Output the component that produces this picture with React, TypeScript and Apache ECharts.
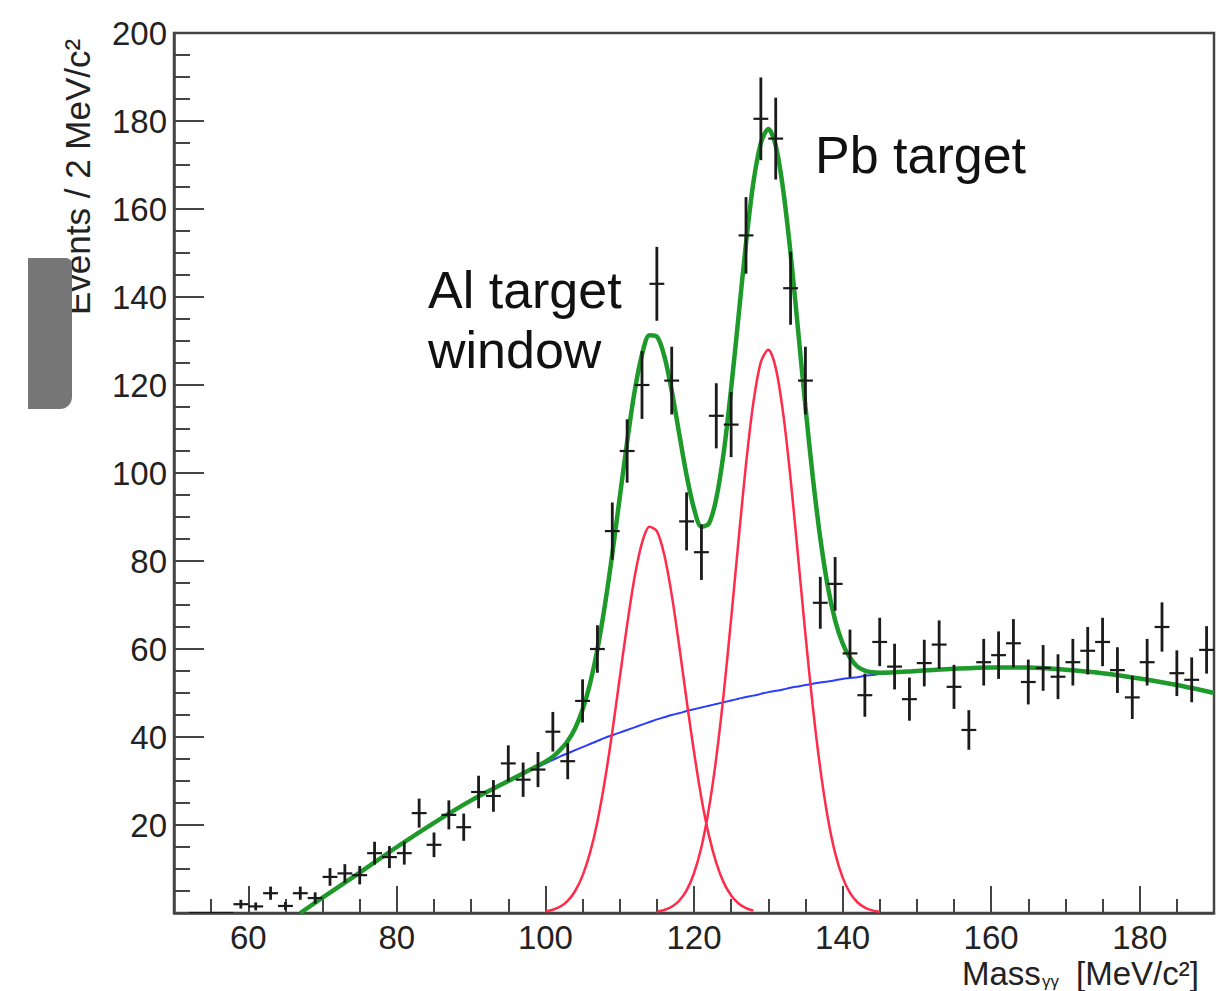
import React, { useEffect, useRef } from "react";
import * as echarts from "echarts";

// ---- histogram data (bin centres in MeV/c^2, 2 MeV bins) ----
const binCenters = [53,55,57,59,61,63,65,67,69,71,73,75,77,79,81,83,85,87,89,91,93,95,97,99,101,103,105,107,109,111,113,115,117,119,121,123,125,127,129,131,133,135,137,139,141,143,145,147,149,151,153,155,157,159,161,163,165,167,169,171,173,175,177,179,181,183,185,187,189];
const counts = [0,0,0,2,1.5,4.5,1.6,4.5,3.4,8.2,
  9,8.6,13.6,12.7,13.6,22.7,15.5,22.3,19.5,27.5,
  26.6,34,30.3,32.6,41.2,34.5,48.2,60,86.8,105,
  120,143,121,89,82,113,111,154,180.5,176,
  142,121,70.5,74.8,59,49.5,61.6,56,48.6,56.8,
  61,51.4,41.6,57,58.6,61.3,52.5,55.7,53.7,57,
  59.6,61.6,55.2,49,57,65,54.5,53,59.8];
const errors = [0,0,0,1,0.9,1.5,0.9,1.5,1.3,2,
  2.1,2.1,2.6,2.5,2.6,3.3,2.8,3.3,3.1,3.7,
  3.6,4.1,3.9,4,4.5,4.1,4.9,5.4,6.5,7.2,
  7.7,8.4,7.7,6.6,6.3,7.4,7.4,8.7,9.4,9.3,
  8.3,7.7,5.9,6.1,5.4,4.9,5.5,5.2,4.9,5.3,
  5.5,5,4.5,5.3,5.4,5.5,5.1,5.2,5.1,5.3,
  5.4,5.5,5.2,4.9,5.3,5.6,5.2,5.1,5.4];

// ---- fit curves ----
const fitX = [67,70,75,80,85,90,95,
  100,101,102,103,104,105,106,107,108,109,
  110,111,112,113,114,115,116,117,118,119,
  120,121,122,123,124,125,126,127,128,129,
  130,131,132,133,134,135,136,137,138,139,
  140,141,142,143,144,145,
  150,155,160,165,170,175,180,185,190];
const backgroundY = [0,3.5,9.2,15.0,20.5,25.6,30.0,
  34.0,34.8,35.6,36.3,37.0,37.7,38.4,39.1,39.8,40.4,
  41.0,41.6,42.2,42.8,43.4,44.0,44.5,45.0,45.4,45.9,
  46.3,46.7,47.1,47.5,47.9,48.3,48.7,49.1,49.4,49.8,
  50.2,50.5,50.8,51.2,51.5,51.8,52.1,52.4,52.6,52.9,
  53.2,53.4,53.6,53.9,54.1,54.3,
  55.0,55.5,55.8,55.8,55.3,54.5,53.3,51.8,50.0];
const totalY = [0,3.5,9.2,15.0,20.5,25.6,30.0,
  34.4,35.5,37.1,39.1,42.0,46.2,52.1,59.9,69.9,81.6,
  94.4,107.1,118.5,126.9,131.3,131.0,126.6,118.7,109.0,99.5,
  91.9,87.8,88.5,94.2,104.7,119.2,135.7,152.2,166.1,175.0,
  178.2,174.4,164.4,149.9,132.7,115.1,98.9,85.2,74.3,66.5,
  61.3,58.0,56.0,55.1,54.7,54.6,
  55.0,55.5,55.8,55.8,55.3,54.5,53.3,51.8,50.0];
const alX = [100,101,102,103,104,105,106,107,108,109,110,111,112,113,114,115,116,117,118,119,120,121,122,123,124,125,126,127,128];
const alY = [0.35,0.74,1.47,2.78,5.0,8.49,13.66,20.8,30.1,41.2,53.4,65.5,76.3,84.1,87.8,86.8,81.4,72.3,60.8,48.4,36.6,26.1,17.7,11.4,6.9,3.98,2.17,1.12,0.55];
const pbX = [115,116,117,118,119,120,121,122,123,124,125,126,127,128,129,130,131,132,133,134,135,136,137,138,139,140,141,142,143,144,145];
const pbY = [0.32,0.69,1.42,2.78,5.15,9.04,15.0,23.7,35.3,49.9,66.9,84.8,102.0,116.1,125.2,128.0,123.9,113.6,98.7,81.2,63.3,46.8,32.8,21.7,13.6,8.1,4.57,2.44,1.24,0.59,0.27];

// ---- axis ticks ----
const xMajorTicks = [60,80,100,120,140,160,180];
const xMinorTicks = [55,65,70,75,85,90,95,105,110,115,125,130,135,145,150,155,165,170,175,185];

const FONT = "'Liberation Sans', Arial, Helvetica, sans-serif";
const AXIS = "#444";

export default function App() {
  const ref = useRef<HTMLDivElement>(null);
  useEffect(() => {
    if (!ref.current) return;
    const chart = echarts.init(ref.current, null, { renderer: "svg" });
    const zip = (xs: number[], ys: number[]) => xs.map((x, i) => [x, ys[i]]);
    const points = binCenters.map((x, i) => [x, counts[i], errors[i]]);
    const option: any = {
      animation: false,
      backgroundColor: "#ffffff",
      grid: { left: 174, top: 33, width: 1040, height: 880, show: true, borderColor: AXIS, borderWidth: 2.5, backgroundColor: "transparent" },
      xAxis: [
        {
          type: "value", min: 50, max: 190,
          axisLine: { show: true, onZero: false, lineStyle: { color: AXIS, width: 2.5 } },
          axisTick: { show: true, inside: true, length: 27, customValues: xMajorTicks, lineStyle: { color: AXIS, width: 2 } },
          axisLabel: { customValues: xMajorTicks, fontSize: 33, lineHeight: 29, color: "#222", fontFamily: FONT, margin: 10 },
          splitLine: { show: false },
        },
        {
          type: "value", min: 50, max: 190, position: "bottom",
          axisLine: { show: false },
          axisTick: { show: true, inside: true, length: 14, customValues: xMinorTicks, lineStyle: { color: AXIS, width: 2 } },
          axisLabel: { show: false },
          splitLine: { show: false },
        },
      ],
      yAxis: {
        type: "value", min: 0, max: 200, interval: 20,
        axisLine: { show: true, lineStyle: { color: AXIS, width: 2.5 } },
        axisTick: { show: true, inside: true, length: 30, lineStyle: { color: AXIS, width: 2 } },
        minorTick: { show: true, splitNumber: 4, length: 16, lineStyle: { color: AXIS, width: 2 } },
        axisLabel: { showMinLabel: false, fontSize: 33, color: "#222", fontFamily: FONT, margin: 7 },
        splitLine: { show: false },
      },
      series: [
        { type: "line", data: zip(fitX, backgroundY), smooth: 0.3, showSymbol: false, clip: true, lineStyle: { color: "#2a3cff", width: 2 }, z: 2 },
        { type: "line", data: zip(alX, alY), smooth: 0.3, showSymbol: false, clip: true, lineStyle: { color: "#ff2b4a", width: 2.5 }, z: 3 },
        { type: "line", data: zip(pbX, pbY), smooth: 0.3, showSymbol: false, clip: true, lineStyle: { color: "#ff2b4a", width: 2.5 }, z: 3 },
        { type: "line", data: zip(fitX, totalY), smooth: 0.3, showSymbol: false, clip: true, lineStyle: { color: "#1e9a2a", width: 4.5 }, z: 4 },
        {
          type: "custom", data: points, clip: true, z: 5,
          renderItem: (_p: any, api: any) => {
            const x = api.value(0), y = api.value(1), e = api.value(2);
            const l = api.coord([x - 1, y]);
            const r = api.coord([x + 1, y]);
            const children: any[] = [
              { type: "line", shape: { x1: l[0], y1: l[1], x2: r[0], y2: r[1] }, style: { stroke: "#1a1a1a", lineWidth: 2.2 } },
            ];
            if (e > 0) {
              const t = api.coord([x, y + e]);
              const b = api.coord([x, y - e]);
              children.push({ type: "line", shape: { x1: t[0], y1: t[1], x2: b[0], y2: b[1] }, style: { stroke: "#1a1a1a", lineWidth: 2.8 } });
            }
            return { type: "group", children };
          },
        },
      ],
      graphic: [
        { type: "text", x: 815, y: 155, style: { text: "Pb target", font: `52px ${FONT}`, fill: "#111", verticalAlign: "middle", align: "left" } },
        { type: "text", x: 428, y: 290, style: { text: "Al target", font: `52px ${FONT}`, fill: "#111", verticalAlign: "middle", align: "left" } },
        { type: "text", x: 428, y: 350, style: { text: "window", font: `52px ${FONT}`, fill: "#111", verticalAlign: "middle", align: "left" } },
        { type: "text", x: 77, y: 315, rotation: Math.PI / 2, style: { text: "Events / 2 MeV/c²", font: `35px ${FONT}`, fill: "#222", verticalAlign: "middle", align: "left" } },
        { type: "text", x: 962, y: 973, style: { text: "Mass", font: `33px ${FONT}`, lineHeight: 26, fill: "#222", verticalAlign: "middle", align: "left" } },
        { type: "text", x: 1042, y: 981, style: { text: "γγ", font: `17px ${FONT}`, lineHeight: 16, fill: "#222", verticalAlign: "middle", align: "left" } },
        { type: "text", x: 1076, y: 973, style: { text: "[MeV/c²]", font: `33px ${FONT}`, lineHeight: 26, fill: "#222", verticalAlign: "middle", align: "left" } },
        { type: "rect", z: 100, shape: { x: 28, y: 258, width: 44, height: 151, r: [0, 6, 12, 0] }, style: { fill: "#777777" } },
      ],
    };
    chart.setOption(option);
    return () => chart.dispose();
  }, []);
  return <div ref={ref} style={{ position: "absolute", left: 0, top: 0, width: 1220, height: 991 }} />;
}
